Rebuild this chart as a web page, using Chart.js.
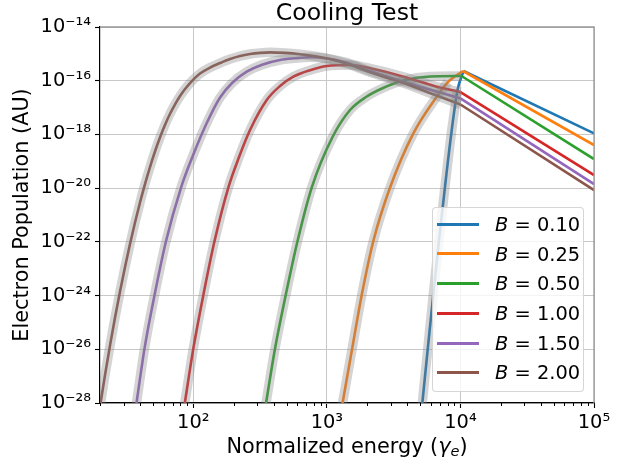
<!DOCTYPE html>
<html>
<head>
<meta charset="utf-8">
<script src="https://cdn.jsdelivr.net/npm/chart.js@4.4.1/dist/chart.umd.min.js"></script>
<style>
html,body{margin:0;padding:0;background:#fff;}
#wrap{position:relative;width:628px;height:463px;font-family:"DejaVu Sans",sans-serif;color:#000;}
#c{position:absolute;left:0;top:0;}
#xlabel{position:absolute;left:100px;width:494px;top:436px;text-align:center;font-size:20.8px;line-height:20.8px;white-space:nowrap;}
#xlabel sub{font-size:70%;line-height:0;vertical-align:-0.22em;}
#legend{position:absolute;left:432px;top:207px;width:152px;height:185px;box-sizing:border-box;border:1px solid rgba(204,204,204,0.8);border-radius:4px;background:rgba(255,255,255,0.8);}
#legend .row{position:absolute;left:0;width:100%;height:20px;}
#legend .swatch{position:absolute;left:4px;width:42px;height:3px;}
#legend .txt{position:absolute;left:62px;font-size:19.4px;line-height:19.4px;white-space:nowrap;}
</style>
</head>
<body>
<div id="wrap">
<canvas id="c" width="628" height="463"></canvas>
<div id="xlabel">Normalized energy (<i>γ</i><sub><i>e</i></sub>)</div>
<div id="legend"></div>
</div>
<script>
// ---- data ----
const B_VALUES = ['0.10', '0.25', '0.50', '1.00', '1.50', '2.00'];

const gamma_B010 = [5155, 5697, 6254, 6899, 7648, 8543, 9507, 10540, 100000];
const n_B010     = [7.67e-29, 1.079e-26, 1.044e-24, 1.072e-22, 1.052e-20, 1.10e-18, 4.50e-17, 2.30e-16, 1.10e-18];

const gamma_B025 = [1298, 1547, 1823, 2227, 2970, 4438, 6643, 8071, 10450, 100000];
const n_B025     = [7.67e-29, 1.079e-26, 1.044e-24, 1.072e-22, 1.052e-20, 1.10e-18, 2.54e-17, 8.95e-17, 2.30e-16, 4.03e-19];

const gamma_B050 = [347.2, 409.0, 491.8, 602.8, 769.8, 1102, 1490, 1963, 2632, 3846, 5917, 10180, 100000];
const n_B050     = [7.67e-29, 1.079e-26, 1.044e-24, 1.072e-22, 1.052e-20, 8.0e-19, 8.11e-18, 2.47e-17, 5.35e-17, 1.062e-16, 1.432e-16, 1.496e-16, 1.21e-19];

const gamma_B100 = [85.6, 100, 118.8, 144.1, 182.8, 219.9, 265.8, 354.4, 445.8, 560.8, 747.5, 997, 1490, 2103, 3734, 6643, 10000, 100000];
const n_B100     = [7.67e-29, 1.079e-26, 1.044e-24, 1.072e-22, 1.052e-20, 1.44e-19, 1.46e-18, 1.91e-17, 6.35e-17, 1.41e-16, 2.46e-16, 3.52e-16, 3.85e-16, 2.90e-16, 1.41e-16, 5.98e-17, 3.79e-17, 3.08e-20];

const gamma_B150 = [37.24, 43.11, 51.23, 62.46, 80.9, 100, 126.0, 158.5, 194.9, 251.0, 326.8, 445.8, 577.2, 747.5, 997, 1367, 2103, 4980, 10000, 100000];
const n_B150     = [7.67e-29, 1.079e-26, 1.044e-24, 1.072e-22, 1.052e-20, 1.782e-19, 2.66e-18, 2.37e-17, 8.20e-17, 2.16e-16, 3.94e-16, 5.90e-16, 6.83e-16, 7.45e-16, 6.71e-16, 4.89e-16, 2.30e-16, 5.98e-17, 2.21e-17, 1.42e-20];

const gamma_B200 = [20.03, 21.83, 23.79, 25.94, 28.27, 30.82, 33.58, 36.61, 39.90, 43.49, 47.41, 51.68, 56.33, 61.40, 66.93, 72.95, 79.51, 86.67, 94.47, 103.0, 112.2, 133.4, 158.5, 188.3, 223.7, 265.8, 315.8, 375.2, 486, 629.2, 815, 1055, 1490, 2103, 3734, 6643, 10000, 100000];
const n_B200     = [7.67e-29, 1.143e-27, 1.432e-26, 1.549e-25, 1.439e-24, 1.178e-23, 8.45e-23, 5.35e-22, 2.97e-21, 1.452e-20, 6.24e-20, 2.36e-19, 7.83e-19, 2.29e-18, 5.88e-18, 1.327e-17, 2.69e-17, 4.91e-17, 8.20e-17, 1.271e-16, 1.846e-16, 3.09e-16, 4.54e-16, 6.40e-16, 8.28e-16, 9.83e-16, 1.089e-15, 1.137e-15, 1.085e-15, 9.70e-16, 8.18e-16, 6.43e-16, 3.91e-16, 2.06e-16, 8.21e-17, 2.81e-17, 1.30e-17, 8.5e-21];

const X_TICKS = [1e2, 1e3, 1e4, 1e5];
const Y_TICKS = [1e-28, 1e-26, 1e-24, 1e-22, 1e-20, 1e-18, 1e-16, 1e-14];
const X_RANGE = [20, 1e5];
const Y_RANGE = [1e-28, 1e-14];
const ANALYTIC_MAX_GAMMA = 1.03e4;

// ---- styling ----
const FONT = "'DejaVu Sans', sans-serif";
const COLORS = ['#1f77b4', '#ff7f0e', '#2ca02c', '#d62728', '#9467bd', '#8c564b'];
const SERIES = [
  [gamma_B010, n_B010], [gamma_B025, n_B025], [gamma_B050, n_B050],
  [gamma_B100, n_B100], [gamma_B150, n_B150], [gamma_B200, n_B200]
];

const X_MINOR = [];
for (let e = 1; e <= 4; e++) for (let m = 2; m <= 9; m++) X_MINOR.push(m * Math.pow(10, e));

const SUP = {'-':'⁻','0':'⁰','1':'¹','2':'²','3':'³','4':'⁴','5':'⁵','6':'⁶','7':'⁷','8':'⁸','9':'⁹'};
function pow10Label(v) {
  const e = Math.round(Math.log10(v));
  return '10' + String(e).split('').map(ch => SUP[ch]).join('');
}

const datasets = [];
SERIES.forEach(([g, n], i) => {
  const pts = g.map((x, k) => ({x: x, y: n[k]}));
  datasets.push({
    label: 'B = ' + B_VALUES[i], data: pts.slice(0, -1),
    borderColor: COLORS[i], backgroundColor: COLORS[i], borderWidth: 2.6,
    pointRadius: 0, cubicInterpolationMode: 'monotone', order: 20 - i, clip: 0, fill: false
  });
  datasets.push({
    label: '_tail' + i, data: pts.slice(-2),
    borderColor: COLORS[i], backgroundColor: COLORS[i], borderWidth: 2.6,
    pointRadius: 0, tension: 0, order: 20 - i, clip: 0, fill: false
  });
});
SERIES.forEach(([g, n], i) => {
  const pts = g.map((x, k) => ({x: x, y: n[k]})).filter(p => p.x <= ANALYTIC_MAX_GAMMA);
  datasets.push({
    label: '_analytic' + i, data: pts,
    borderColor: 'rgba(128,128,128,0.34)', borderWidth: 9.5,
    pointRadius: 0, cubicInterpolationMode: 'monotone', order: 0, clip: 0, fill: false
  });
});

const extras = {
  id: 'extras',
  afterDraw(chart) {
    const {ctx, chartArea} = chart;
    const x = chart.scales.x;
    ctx.save();
    ctx.strokeStyle = '#000';
    ctx.lineWidth = 1;
    X_MINOR.forEach(v => {
      if (v < x.min || v > x.max) return;
      const px = Math.round(x.getPixelForValue(v)) + 0.5;
      ctx.beginPath();
      ctx.moveTo(px, chartArea.bottom);
      ctx.lineTo(px, chartArea.bottom + 3);
      ctx.stroke();
    });
    ctx.strokeStyle = '#969696';
    ctx.lineWidth = 1.3;
    ctx.beginPath();
    ctx.moveTo(chartArea.left, chartArea.top);
    ctx.lineTo(chartArea.right, chartArea.top);
    ctx.lineTo(chartArea.right, chartArea.bottom);
    ctx.stroke();
    ctx.restore();
  }
};

new Chart(document.getElementById('c'), {
  type: 'line',
  data: {datasets: datasets},
  plugins: [extras],
  options: {
    responsive: false, animation: false, devicePixelRatio: 1,
    layout: {padding: {left: 0, right: 34, top: 0, bottom: 0}},
    plugins: {
      legend: {display: false},
      tooltip: {enabled: false},
      title: {
        display: true, text: 'Cooling Test', fullSize: false, color: '#000',
        font: {family: FONT, size: 23.6, weight: 'normal', lineHeight: 1},
        padding: {top: 1.7, bottom: 1.7}
      }
    },
    scales: {
      x: {
        type: 'logarithmic', min: X_RANGE[0], max: X_RANGE[1],
        afterBuildTicks: s => { s.ticks = X_TICKS.map(v => ({value: v})); },
        afterFit: s => { s.height = 60; s.paddingLeft = 0; s.paddingRight = 0; },
        ticks: {callback: v => pow10Label(v), color: '#000', font: {family: FONT, size: 19.4}, padding: 3, maxRotation: 0, minRotation: 0, autoSkip: false},
        grid: {color: '#c8c8c8', lineWidth: 1, tickColor: '#000', tickLength: 5, tickWidth: 1.1},
        border: {color: '#000', width: 1.2}
      },
      y: {
        type: 'logarithmic', min: Y_RANGE[0], max: Y_RANGE[1],
        afterBuildTicks: s => { s.ticks = Y_TICKS.map(v => ({value: v})); },
        afterFit: s => { s.width = 100; s.paddingTop = 0; s.paddingBottom = 0; },
        ticks: {callback: v => pow10Label(v), color: '#000', font: {family: FONT, size: 19.4}, padding: 4, autoSkip: false},
        grid: {color: '#c8c8c8', lineWidth: 1, tickColor: '#000', tickLength: 5, tickWidth: 1.1},
        border: {color: '#000', width: 1.2},
        title: {display: true, text: 'Electron Population (AU)', color: '#000', font: {family: FONT, size: 20.8}, padding: {top: 10, bottom: 0}}
      }
    }
  }
});

// HTML legend built from the same series labels / colours
const legend = document.getElementById('legend');
B_VALUES.forEach((b, i) => {
  const c = 16.3 + i * 29.68;
  const row = document.createElement('div');
  row.className = 'row';
  row.style.top = '0px';
  row.innerHTML = '<span class="swatch" style="top:' + Math.round(c - 1.5) + 'px;background:' + COLORS[i] + '"></span>' +
                  '<span class="txt" style="top:' + (c - 9.34).toFixed(2) + 'px"><i>B</i> = ' + b + '</span>';
  legend.appendChild(row);
});
</script>
</body>
</html>
